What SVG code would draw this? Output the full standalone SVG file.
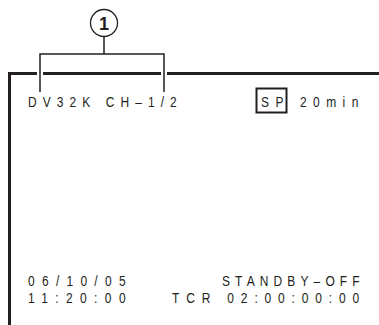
<svg xmlns="http://www.w3.org/2000/svg" width="379" height="325" viewBox="0 0 379 325">
<style>
.t{font-family:"Liberation Sans",Arial,sans-serif;font-size:15px;fill:#231f20}
.frame{stroke:#231f20;stroke-width:3;fill:none}
.br{stroke:#231f20;stroke-width:1.5;fill:none}
</style>
<rect width="379" height="325" fill="#fff"/>
<g id="frame">
<path class="frame" d="M9.5,325 V73.5 H379"/>
<path d="M37,73.5 H43 M161,73.5 H167" stroke="#fff" stroke-width="4"/>
</g>
<g id="connectors">
<path class="br" d="M40,92 V54 H164 V92 M104,54 V37"/>
</g>
<g id="callout1">
<circle cx="104" cy="23" r="13.5" fill="#fff" stroke="#231f20" stroke-width="1.3"/>
<text x="104" y="29.5" text-anchor="middle" style="font-family:'Liberation Sans',Arial,sans-serif;font-weight:bold;font-size:18px;fill:#231f20">1</text>
</g>
<g id="texts">
<text class="t" transform="translate(28,107) scale(0.8,1)" textLength="186" lengthAdjust="spacing">DV32K CH–1/2</text>
<rect x="256.5" y="88.5" width="30" height="24" fill="none" stroke="#231f20" stroke-width="2"/>
<text class="t" transform="translate(261,107) scale(0.8,1)" textLength="28" lengthAdjust="spacing">SP</text>
<text class="t" transform="translate(300,107) scale(0.8,1)" textLength="73" lengthAdjust="spacing">20min</text>
<text class="t" transform="translate(28,286) scale(0.8,1)" textLength="122" lengthAdjust="spacing">06/10/05</text>
<text class="t" transform="translate(28,303) scale(0.8,1)" textLength="122" lengthAdjust="spacing">11:20:00</text>
<text class="t" transform="translate(222,286) scale(0.8,1)" textLength="172" lengthAdjust="spacing">STANDBY–OFF</text>
<text class="t" transform="translate(172,303) scale(0.8,1)" textLength="234" lengthAdjust="spacing">TCR 02:00:00:00</text>
</g>
</svg>
